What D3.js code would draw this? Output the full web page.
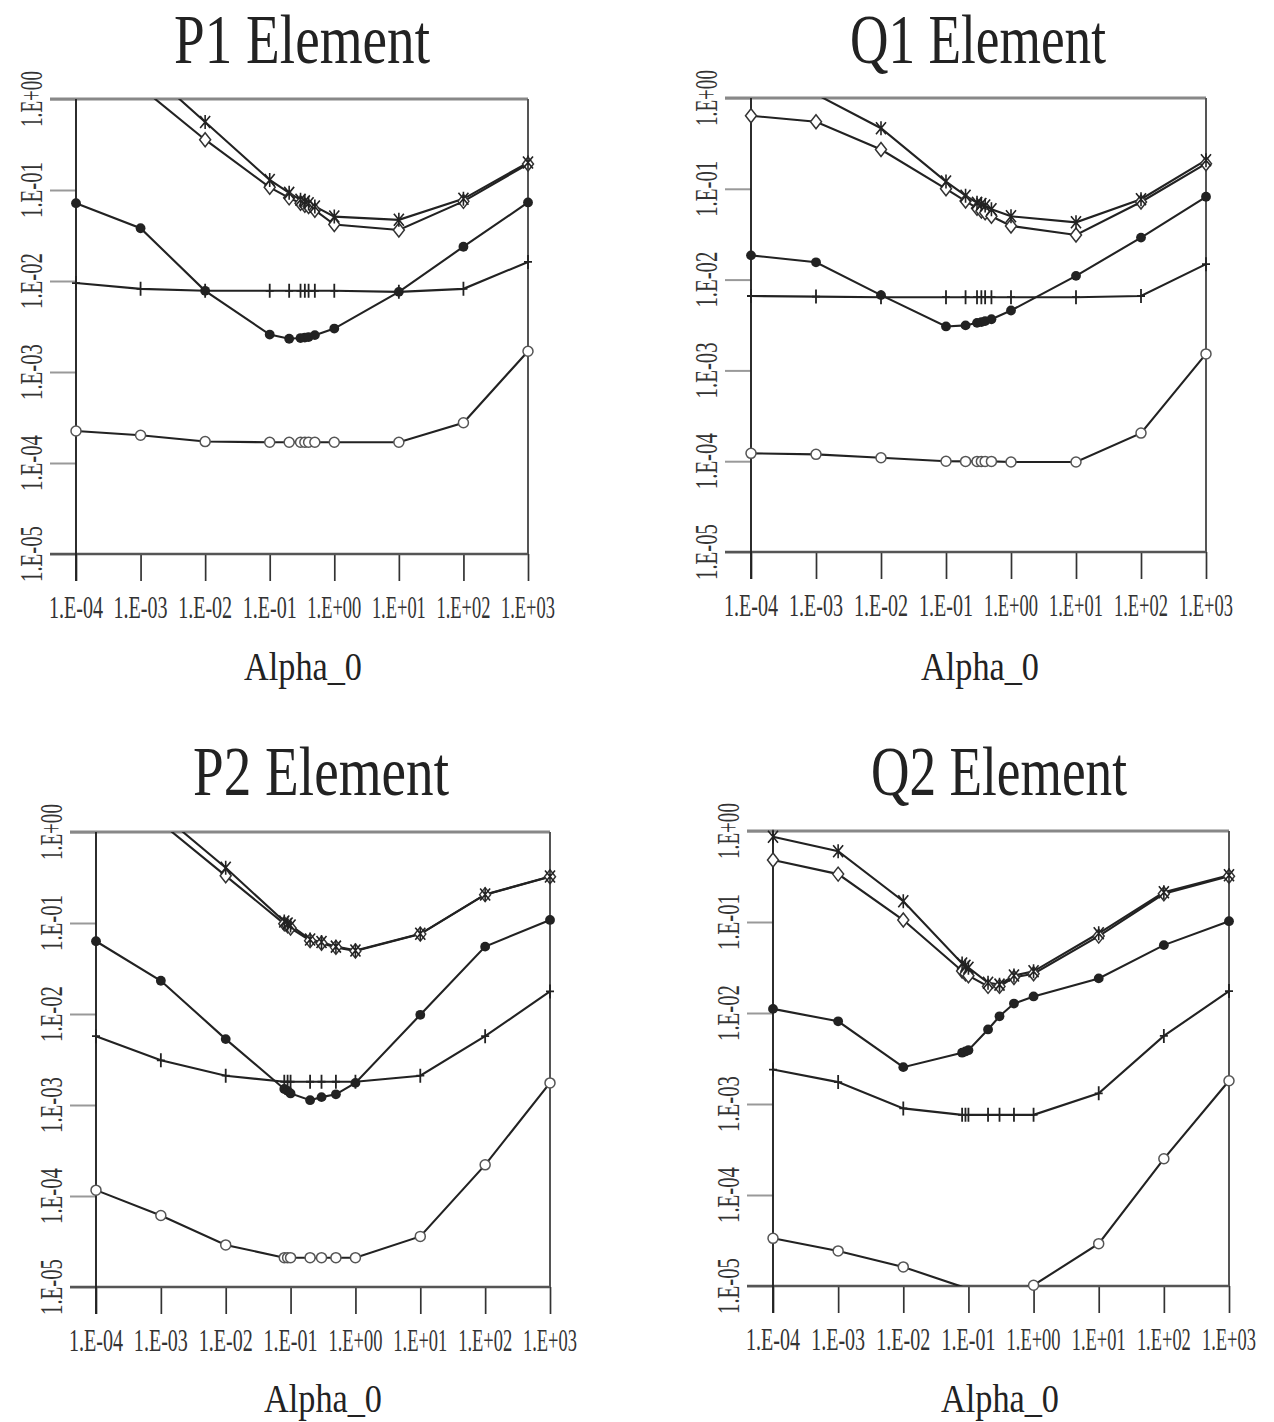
<!DOCTYPE html>
<html><head><meta charset="utf-8">
<script src="https://cdn.jsdelivr.net/npm/d3@7/dist/d3.min.js"></script>
<style>body{margin:0;background:#fff}svg{display:block}</style>
</head><body>
<svg id="chart" width="1274" height="1422"></svg>
<script>
// ---------- data ----------
const xTickValues = [1e-4, 1e-3, 1e-2, 1e-1, 1, 10, 100, 1000];
const xTickLabels = ["1.E-04","1.E-03","1.E-02","1.E-01","1.E+00","1.E+01","1.E+02","1.E+03"];
const yTickValues = [1, 1e-1, 1e-2, 1e-3, 1e-4, 1e-5];
const yTickLabels = ["1.E+00","1.E-01","1.E-02","1.E-03","1.E-04","1.E-05"];
const titles = ["P1 Element", "Q1 Element", "P2 Element", "Q2 Element"];
const xAxisTitle = "Alpha_0";

// alpha values used in the first row (P1, Q1)
const alphaRow1 = [1e-4, 1e-3, 1e-2, 0.1, 0.2, 0.3, 0.35, 0.4, 0.5, 1, 10, 100, 1000];
// alpha values used in the second row (P2, Q2)
const alphaRow2 = [1e-4, 1e-3, 1e-2, 0.08, 0.09, 0.1, 0.2, 0.3, 0.5, 1, 10, 100, 1000];

// P1 Element
const p1Diamond = [3.0, 1.35, 0.357, 0.107, 0.082, 0.0716, 0.068, 0.066, 0.060, 0.0417, 0.0363, 0.075, 0.193];
const p1Cross   = [8.0, 2.4, 0.56, 0.129, 0.093, 0.078, 0.075, 0.0716, 0.066, 0.051, 0.047, 0.080, 0.200];
const p1Filled  = [0.0716, 0.038, 0.0078, 0.00258, 0.00232, 0.00236, 0.00239, 0.00242, 0.00254, 0.0030, 0.0076, 0.0238, 0.073];
const p1Plus    = [0.0095, 0.0082, 0.0078, 0.0078, 0.0078, 0.0078, 0.0078, 0.0078, 0.0078, 0.0078, 0.0076, 0.0082, 0.0162];
const p1Open    = [2.25e-4, 2.02e-4, 1.72e-4, 1.69e-4, 1.69e-4, 1.69e-4, 1.69e-4, 1.69e-4, 1.69e-4, 1.69e-4, 1.69e-4, 2.77e-4, 1.69e-3];

// Q1 Element
const q1Diamond = [0.637, 0.547, 0.271, 0.100, 0.0733, 0.0612, 0.0570, 0.0544, 0.0498, 0.039, 0.031, 0.0715, 0.189];
const q1Cross   = [1.6, 1.1, 0.465, 0.120, 0.084, 0.070, 0.068, 0.0653, 0.0596, 0.0498, 0.0427, 0.0767, 0.2065];
const q1Filled  = [0.0185, 0.0155, 0.00674, 0.00305, 0.00313, 0.00334, 0.0034, 0.00349, 0.00366, 0.00457, 0.011, 0.029, 0.0817];
const q1Plus    = [0.0066, 0.0065, 0.0064, 0.0064, 0.0064, 0.0064, 0.0064, 0.0064, 0.0064, 0.0064, 0.0064, 0.0066, 0.0148];
const q1Open    = [1.22e-4, 1.19e-4, 1.09e-4, 1.0e-4, 0.995e-4, 0.995e-4, 0.995e-4, 0.995e-4, 0.995e-4, 0.98e-4, 0.98e-4, 2.04e-4, 1.52e-3];

// P2 Element
const p2Diamond = [4.0, 1.26, 0.33, 0.098, 0.093, 0.088, 0.064, 0.060, 0.054, 0.0493, 0.0755, 0.205, 0.322];
const p2Cross   = [6.0, 1.6, 0.404, 0.104, 0.099, 0.094, 0.066, 0.062, 0.055, 0.050, 0.076, 0.206, 0.324];
const p2Filled  = [0.063, 0.0232, 0.0053, 0.00150, 0.00143, 0.00134, 0.00113, 0.00122, 0.00131, 0.00175, 0.0098, 0.055, 0.108];
const p2Plus    = [5.7e-3, 3.1e-3, 2.1e-3, 1.8e-3, 1.8e-3, 1.8e-3, 1.8e-3, 1.8e-3, 1.8e-3, 1.8e-3, 2.1e-3, 5.7e-3, 0.0177];
const p2Open    = [1.16e-4, 6.1e-5, 2.9e-5, 2.1e-5, 2.1e-5, 2.1e-5, 2.1e-5, 2.1e-5, 2.1e-5, 2.1e-5, 3.6e-5, 2.2e-4, 1.75e-3];

// Q2 Element
const q2Diamond = [0.48, 0.336, 0.105, 0.029, 0.027, 0.0257, 0.0196, 0.0196, 0.0246, 0.027, 0.070, 0.204, 0.318];
const q2Cross   = [0.865, 0.60, 0.169, 0.035, 0.033, 0.0315, 0.0215, 0.0205, 0.0258, 0.0287, 0.0752, 0.212, 0.327];
const q2Filled  = [0.0111, 0.0081, 0.00254, 0.00366, 0.00378, 0.0039, 0.0066, 0.0092, 0.0127, 0.0152, 0.024, 0.0557, 0.102];
const q2Plus    = [2.39e-3, 1.74e-3, 8.95e-4, 7.6e-4, 7.6e-4, 7.6e-4, 7.6e-4, 7.6e-4, 7.6e-4, 7.6e-4, 1.31e-3, 5.6e-3, 0.0174];
const q2Open    = [3.34e-5, 2.43e-5, 1.62e-5, 9.8e-6, 9.3e-6, 9.0e-6, 8.5e-6, 8.5e-6, 9.0e-6, 1.02e-5, 2.92e-5, 2.5e-4, 1.8e-3];

// ---------- layout ----------
const panels = [
  {title: titles[0], alpha: alphaRow1, series: [p1Diamond, p1Cross, p1Filled, p1Plus, p1Open],
   left: 76, right: 528, top: 99, bottom: 554, titleX: 302, titleY: 63, labX: 303, labY: 680},
  {title: titles[1], alpha: alphaRow1, series: [q1Diamond, q1Cross, q1Filled, q1Plus, q1Open],
   left: 751, right: 1206, top: 98, bottom: 552, titleX: 978, titleY: 63, labX: 980, labY: 680},
  {title: titles[2], alpha: alphaRow2, series: [p2Diamond, p2Cross, p2Filled, p2Plus, p2Open],
   left: 96, right: 550, top: 832, bottom: 1287, titleX: 321, titleY: 795, labX: 323, labY: 1412},
  {title: titles[3], alpha: alphaRow2, series: [q2Diamond, q2Cross, q2Filled, q2Plus, q2Open],
   left: 773, right: 1229, top: 831, bottom: 1286, titleX: 999, titleY: 795, labX: 1000, labY: 1412}
];
const markerKinds = ["diamond", "cross", "filled", "plus", "open"];
const FONT = "'Liberation Serif','DejaVu Serif','Times New Roman',serif";
const svg = d3.select("#chart");

// condensed text: fit natural width to `w` using a horizontal scale, stretch vertically by sy
function condensedText(parent, str, cx, cy, size, w, sy, rotate) {
  const g = parent.append("g");
  const t = g.append("text").attr("x", 0).attr("y", 0).attr("text-anchor", "middle")
    .attr("font-family", FONT).attr("font-size", size).attr("fill", "#222").text(str);
  const nat = t.node().getComputedTextLength();
  const sx = w / nat;
  g.attr("transform", `translate(${cx},${cy})${rotate ? " rotate(-90)" : ""} scale(${sx.toFixed(4)},${sy})`);
  return t;
}

function drawMarker(g, kind, x, y) {
  if (kind === "diamond") {
    g.append("path").attr("d", `M${x},${y-7}L${x+5.5},${y}L${x},${y+7}L${x-5.5},${y}Z`)
      .attr("fill", "#fff").attr("stroke", "#333").attr("stroke-width", 1.5);
  } else if (kind === "cross") {
    g.append("path").attr("d", `M${x-5},${y-6}L${x+5},${y+6}M${x-5},${y+6}L${x+5},${y-6}M${x},${y-7}V${y+7}`)
      .attr("stroke", "#222").attr("stroke-width", 1.6).attr("fill", "none");
  } else if (kind === "filled") {
    g.append("circle").attr("cx", x).attr("cy", y).attr("r", 4.9).attr("fill", "#222");
  } else if (kind === "plus") {
    g.append("path").attr("d", `M${x},${y-7}V${y+7}M${x-4},${y}H${x+4}`)
      .attr("stroke", "#222").attr("stroke-width", 1.8).attr("fill", "none");
  } else {
    g.append("circle").attr("cx", x).attr("cy", y).attr("r", 5)
      .attr("fill", "#fff").attr("stroke", "#555").attr("stroke-width", 1.5);
  }
}

panels.forEach((p, i) => {
  const x = d3.scaleLog().domain([1e-4, 1e3]).range([p.left, p.right]);
  const y = d3.scaleLog().domain([1e-5, 1]).range([p.bottom, p.top]);
  const g = svg.append("g");

  // title
  condensedText(g, p.title, p.titleX, p.titleY, 52, 256, 1.33, false);

  // y axis ticks
  const yAxis = d3.axisLeft(y).tickValues(yTickValues).tickSize(26).tickFormat("");
  const ya = g.append("g").attr("transform", `translate(${p.left},0)`).call(yAxis);
  ya.select(".domain").remove();
  ya.selectAll(".tick line").attr("stroke", "#999").attr("stroke-width", 2);
  ya.selectAll(".tick text").remove();
  yTickValues.forEach((v, j) => {
    condensedText(g, yTickLabels[j], p.left - 44, y(v), 22, 56, 1.4, true)
      .attr("dominant-baseline", "central").attr("fill", "#333");
  });

  // x axis ticks
  const xAxis = d3.axisBottom(x).tickValues(xTickValues).tickSize(27).tickFormat("");
  const xa = g.append("g").attr("transform", `translate(0,${p.bottom})`).call(xAxis);
  xa.select(".domain").remove();
  xa.selectAll(".tick line").attr("stroke", "#333").attr("stroke-width", 1.7);
  xa.selectAll(".tick text").remove();
  xTickValues.forEach((v, j) => {
    condensedText(g, xTickLabels[j], x(v), p.bottom + 64, 22, 54, 1.45, false).attr("fill", "#333");
  });

  // frame
  g.append("line").attr("x1", p.left - 26).attr("x2", p.right).attr("y1", y(1)).attr("y2", y(1))
    .attr("stroke", "#888").attr("stroke-width", 3);
  g.append("line").attr("x1", p.left - 26).attr("x2", p.right).attr("y1", y(1e-5)).attr("y2", y(1e-5))
    .attr("stroke", "#555").attr("stroke-width", 2.6);
  g.append("line").attr("x1", p.right).attr("x2", p.right).attr("y1", y(1)).attr("y2", y(1e-5))
    .attr("stroke", "#555").attr("stroke-width", 2);
  g.append("line").attr("x1", p.left).attr("x2", p.left).attr("y1", y(1)).attr("y2", p.bottom + 27)
    .attr("stroke", "#222").attr("stroke-width", 1.9);

  // x axis title
  condensedText(g, xAxisTitle, p.labX, p.labY, 34, 118, 1.2, false);

  // clip for lines
  const cid = "clip" + i;
  svg.append("clipPath").attr("id", cid).append("rect")
    .attr("x", p.left - 10).attr("y", p.top).attr("width", p.right - p.left + 20).attr("height", p.bottom - p.top);

  const line = d3.line().x(d => x(d[0])).y(d => y(d[1]));
  const lg = g.append("g").attr("clip-path", `url(#${cid})`);
  p.series.forEach(s => {
    const pts = p.alpha.map((a, k) => [a, s[k]]);
    lg.append("path").attr("d", line(pts)).attr("fill", "none")
      .attr("stroke", "#222").attr("stroke-width", 2.1);
  });
  const mg = g.append("g");
  p.series.forEach((s, si) => {
    p.alpha.forEach((a, k) => {
      const v = s[k];
      if (v > 1.0001 || v < 0.99e-5) return;
      drawMarker(mg, markerKinds[si], x(a), y(v));
    });
  });
});
</script>
</body></html>
